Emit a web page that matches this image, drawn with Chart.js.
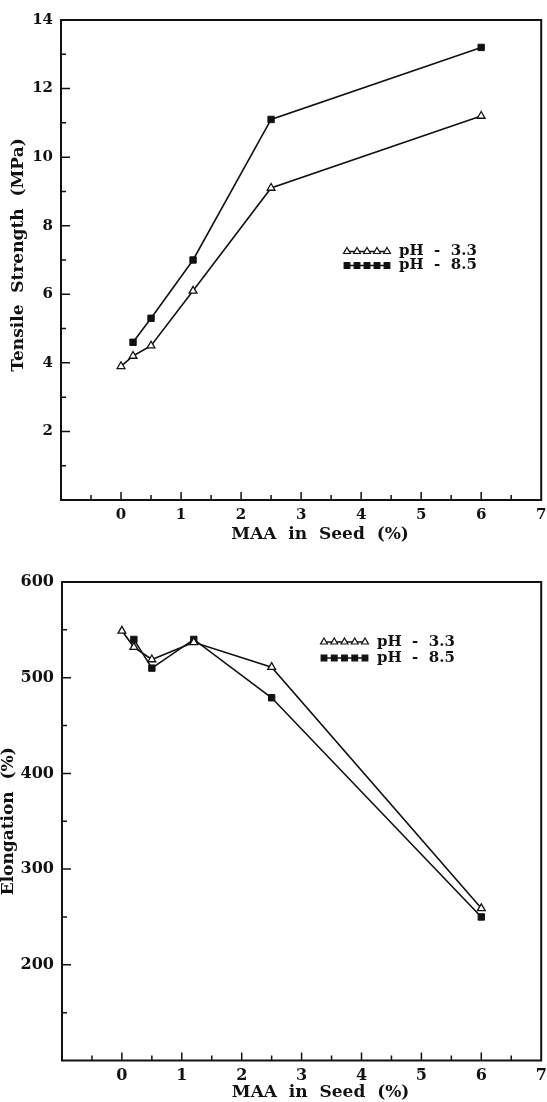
<!DOCTYPE html>
<html>
<head>
<meta charset="utf-8">
<script src="https://cdn.jsdelivr.net/npm/chart.js@4.4.1/dist/chart.umd.min.js"></script>
<style>
  html, body { margin: 0; padding: 0; background: #fff; }
  body { width: 547px; height: 1102px; position: relative; overflow: hidden; }
  canvas { position: absolute; left: 0; }
  #chartTensile { top: 0; }
  #chartElong { top: 560px; }
</style>
</head>
<body>
<canvas id="chartTensile" width="547" height="550"></canvas>
<canvas id="chartElong" width="547" height="542"></canvas>
<script>
// MAA en la semilla (%) para cada serie
const maaPh33 = [0, 0.2, 0.5, 1.2, 2.5, 6];
const maaPh85 = [0.2, 0.5, 1.2, 2.5, 6];

// Resistencia a la tracción (MPa)
const tensilePh33 = [3.9, 4.2, 4.5, 6.1, 9.1, 11.2];
const tensilePh85 = [4.6, 5.3, 7.0, 11.1, 13.2];

// Elongación (%)
const elongPh33 = [549, 532, 519, 537, 511, 259];
const elongPh85 = [540, 510, 540, 479, 250];

const seriesLabels = ['pH  -  3.3', 'pH  -  8.5'];

// Etiquetas visibles en los ejes (el resto de marcas van sin texto)
const xTickLabels = [0, 1, 2, 3, 4, 5, 6, 7];
const tensileTickLabels = [2, 4, 6, 8, 10, 12, 14];
const elongTickLabels = [200, 300, 400, 500, 600];

const FONT = '"DejaVu Serif", "Liberation Serif", serif';
const INK = '#111';

const toPoints = (xs, ys) => xs.map((x, i) => ({ x: x, y: ys[i] }));

// Marco completo y marcas hacia dentro en los ejes inferior e izquierdo
const frameTicks = {
    id: 'frameTicks',
    beforeDatasetsDraw(chart) {
        const { ctx, chartArea: a, scales: { x, y } } = chart;
        ctx.save();
        ctx.strokeStyle = INK;
        ctx.lineWidth = 1.5;
        ctx.beginPath();
        x.ticks.forEach(t => {
            const px = x.getPixelForValue(t.value);
            if (px <= a.left + 1 || px >= a.right - 1) return;
            const len = Number.isInteger(t.value) ? 8 : 5;
            ctx.moveTo(px, a.bottom);
            ctx.lineTo(px, a.bottom - len);
        });
        y.ticks.forEach(t => {
            const py = y.getPixelForValue(t.value);
            if (py <= a.top + 1 || py >= a.bottom - 1) return;
            const len = t.label !== '' ? 9 : 5;
            ctx.moveTo(a.left, py);
            ctx.lineTo(a.left + len, py);
        });
        ctx.stroke();
        ctx.lineWidth = 2;
        ctx.strokeRect(a.left, a.top, a.right - a.left, a.bottom - a.top);
        ctx.restore();
    }
};

// Títulos de los ejes y leyenda con la fila de marcadores
const titlesLegend = {
    id: 'titlesLegend',
    afterDatasetsDraw(chart, args, opts) {
        const { ctx, chartArea: a } = chart;
        ctx.save();
        ctx.fillStyle = INK;
        ctx.font = 'bold 17px ' + FONT;
        ctx.textAlign = 'center';
        ctx.textBaseline = 'middle';
        ctx.fillText(opts.xTitle, (a.left + a.right) / 2 + opts.xTitleDx, a.bottom + opts.xTitleDy);

        ctx.translate(opts.yTitleX, (a.top + a.bottom) / 2 + opts.yTitleDy);
        ctx.rotate(-Math.PI / 2);
        ctx.fillText(opts.yTitle, 0, 0);
        ctx.restore();

        const x0 = a.left + opts.legendDx;
        const y0 = a.top + opts.legendDy;
        chart.data.datasets.forEach((ds, i) => {
            const yy = y0 + i * opts.legendGap;
            ctx.save();
            ctx.strokeStyle = INK;
            ctx.lineWidth = 1.6;
            ctx.beginPath();
            ctx.moveTo(x0, yy);
            ctx.lineTo(x0 + opts.legendLen, yy);
            ctx.stroke();
            ctx.fillStyle = ds.pointBackgroundColor;
            ctx.lineWidth = 1.2;
            for (let k = 0; k < 5; k++) {
                const mx = x0 + 3 + k * (opts.legendLen - 6) / 4;
                Chart.helpers.drawPoint(ctx, { pointStyle: ds.pointStyle, radius: 4, borderWidth: 1.2, rotation: 0 }, mx, yy);
            }
            ctx.fillStyle = INK;
            ctx.font = 'bold 15px ' + FONT;
            ctx.textAlign = 'left';
            ctx.textBaseline = 'middle';
            ctx.fillText(ds.label, x0 + opts.legendLen + 9, yy);
            ctx.restore();
        });
    }
};

function serie(label, points, style) {
    const abierto = style === 'triangle';
    return {
        label: label,
        data: points,
        borderColor: INK,
        borderWidth: 1.6,
        pointStyle: style,
        pointRadius: 4.5,
        pointBorderWidth: abierto ? 1.3 : 1,
        pointBorderColor: INK,
        pointBackgroundColor: abierto ? '#fff' : INK,
        tension: 0,
        fill: false
    };
}

function crearGrafica(id, cfg) {
    const ctx = document.getElementById(id).getContext('2d');
    return new Chart(ctx, {
        type: 'line',
        data: { datasets: cfg.datasets },
        plugins: [frameTicks, titlesLegend],
        options: {
            responsive: false,
            animation: false,
            devicePixelRatio: 1,
            layout: { padding: cfg.padding },
            plugins: {
                legend: { display: false },
                tooltip: { enabled: false },
                titlesLegend: cfg.deco
            },
            scales: {
                x: {
                    type: 'linear',
                    min: -1, max: 7,
                    grid: { display: false, drawTicks: false },
                    border: { display: false },
                    ticks: {
                        stepSize: 0.5,
                        autoSkip: false,
                        maxRotation: 0,
                        padding: cfg.xPad,
                        color: INK,
                        font: { family: FONT, weight: 'bold', size: cfg.tickSize },
                        callback: v => xTickLabels.includes(v) ? String(v) : ''
                    },
                    afterFit: s => {
                        s.height = cfg.xHeight;
                        s.paddingLeft = 0; s.paddingRight = 0;
                    }
                },
                y: {
                    min: cfg.yMin, max: cfg.yMax,
                    grid: { display: false, drawTicks: false },
                    border: { display: false },
                    ticks: {
                        stepSize: cfg.yStep,
                        autoSkip: false,
                        padding: 8,
                        color: INK,
                        font: { family: FONT, weight: 'bold', size: cfg.tickSize },
                        callback: v => cfg.yLabels.includes(v) ? String(v) : ''
                    },
                    afterFit: s => {
                        s.width = cfg.yWidth;
                        s.paddingTop = 0; s.paddingBottom = 0;
                    }
                }
            }
        }
    });
}

crearGrafica('chartTensile', {
    datasets: [
        serie(seriesLabels[0], toPoints(maaPh33, tensilePh33), 'triangle'),
        serie(seriesLabels[1], toPoints(maaPh85, tensilePh85), 'rect')
    ],
    padding: { left: 0, right: 4, top: 20, bottom: 0 },
    yWidth: 61, xHeight: 50, xPad: 6, tickSize: 15,
    yMin: 0, yMax: 14, yStep: 1, yLabels: tensileTickLabels,
    deco: {
        xTitle: 'MAA  in  Seed  (%)', xTitleDx: 19, xTitleDy: 35,
        yTitle: 'Tensile  Strength  (MPa)', yTitleX: 19, yTitleDy: -5,
        legendDx: 283, legendDy: 231.5, legendGap: 14, legendLen: 46
    }
});

crearGrafica('chartElong', {
    datasets: [
        serie(seriesLabels[0], toPoints(maaPh33, elongPh33), 'triangle'),
        serie(seriesLabels[1], toPoints(maaPh85, elongPh85), 'rect')
    ],
    padding: { left: 0, right: 3.5, top: 22, bottom: 0 },
    yWidth: 62, xHeight: 41.5, xPad: 6, tickSize: 16,
    yMin: 100, yMax: 600, yStep: 50, yLabels: elongTickLabels,
    deco: {
        xTitle: 'MAA  in  Seed  (%)', xTitleDx: 19, xTitleDy: 32.5,
        yTitle: 'Elongation  (%)', yTitleX: 9, yTitleDy: 0,
        legendDx: 259, legendDy: 60, legendGap: 16, legendLen: 47
    }
});
</script>
</body>
</html>
